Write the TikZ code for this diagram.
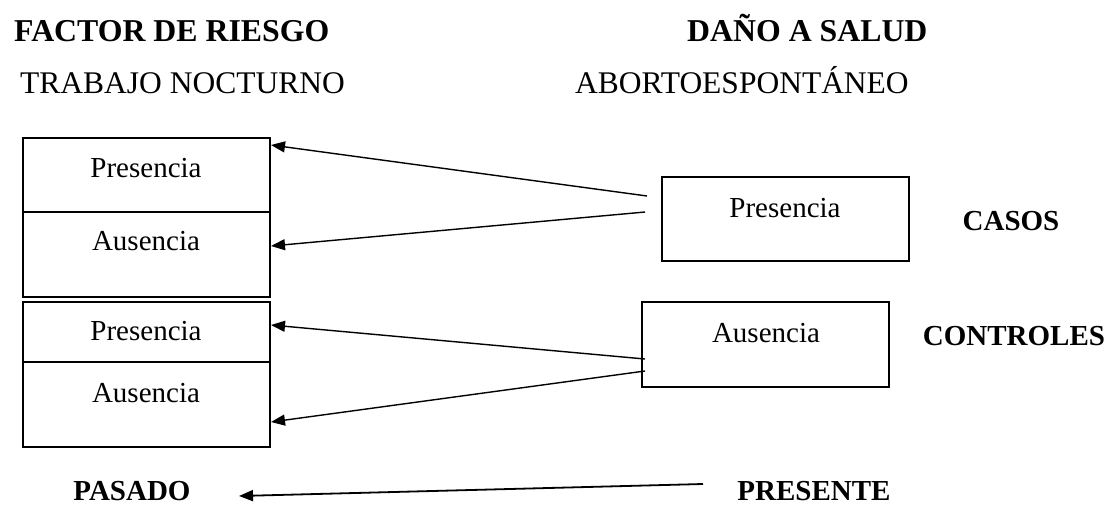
\documentclass[tikz,border=0pt]{standalone}
\usepackage{fontspec}
\setmainfont{Liberation Serif}
\usetikzlibrary{arrows.meta}
\begin{document}
\begin{tikzpicture}[x=1pt,y=-1pt,
  lbl/.style={font=\fontsize{29}{34}\selectfont, inner sep=0pt, anchor=base},
  hdr/.style={font=\fontsize{31.8}{36}\selectfont\bfseries, inner sep=0pt, anchor=base west},
  sub/.style={font=\fontsize{31.5}{36}\selectfont, inner sep=0pt, anchor=base west},
  side/.style={font=\fontsize{29}{34}\selectfont\bfseries, inner sep=0pt, anchor=base},
  boxline/.style={draw=black, line width=1.8pt},
  arr/.style={line width=1.4pt, -{Triangle[length=14pt,width=11pt]}}]
\useasboundingbox (0,0) rectangle (1111,506);
% headings
\node[hdr] (fr) at (14,41) {FACTOR DE RIESGO};
\node[hdr] (ds) at (687,41) {DAÑO A SALUD};
\node[sub] (tn) at (20,93) {TRABAJO NOCTURNO};
\node[sub] (ae) at (575,93) {ABORTOESPONTÁNEO};
% left boxes
\draw[boxline] (23,138) rectangle (270,297);
\draw[boxline] (23,212) -- (270,212);
\draw[boxline] (23,302) rectangle (270,447);
\draw[boxline] (23,362) -- (270,362);
\node[lbl] (lp1) at (146,177) {Presencia};
\node[lbl] (la1) at (146,250) {Ausencia};
\node[lbl] (lp2) at (146,340) {Presencia};
\node[lbl] (la2) at (146,402) {Ausencia};
% right boxes
\draw[boxline] (662,177) rectangle (909,261);
\draw[boxline] (642,302) rectangle (889,387);
\node[lbl] (rp) at (785,217) {Presencia};
\node[lbl] (ra) at (766,342) {Ausencia};
\node[side] (casos) at (1011,230) {CASOS};
\node[side] (ctrl) at (1014,345) {CONTROLES};
% arrow end points
\coordinate (s1) at (647,196);
\coordinate (s2) at (645,212);
\coordinate (s3) at (645,359);
\coordinate (s4) at (645,371);
\coordinate (t1) at (271,145);
\coordinate (t2) at (271,246);
\coordinate (t3) at (271,325);
\coordinate (t4) at (271,422);
\draw[arr] (s1) -- (t1);
\draw[arr] (s2) -- (t2);
\draw[arr] (s3) -- (t3);
\draw[arr] (s4) -- (t4);
% bottom
\node[side] (pasado) at (132,500) {PASADO};
\node[side] (presente) at (814,500) {PRESENTE};
\coordinate (b1) at (703,484);
\coordinate (b2) at (239,496);
\draw[arr, line width=1.8pt] (b1) -- (b2);
\end{tikzpicture}
\end{document}
